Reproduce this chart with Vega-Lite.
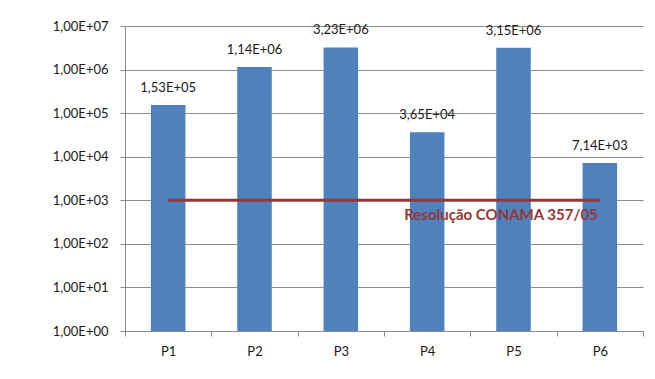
{
  "$schema": "https://vega.github.io/schema/vega-lite/v6.json",
  "width": 518,
  "height": 305,
  "autosize": {"type": "none"},
  "padding": {"left": 125, "top": 26, "right": 12, "bottom": 48},
  "background": "white",
  "config": {"view": {"stroke": null}, "font": "Lato"},
  "datasets": {
    "samples": [
      {"ponto": "P1", "valor": 153000},
      {"ponto": "P2", "valor": 1140000},
      {"ponto": "P3", "valor": 3230000},
      {"ponto": "P4", "valor": 36500},
      {"ponto": "P5", "valor": 3150000},
      {"ponto": "P6", "valor": 7140}
    ],
    "limite": [
      {"ponto": "P1", "valor": 1000},
      {"ponto": "P6", "valor": 1000}
    ],
    "nota": [
      {"ponto": "P6", "valor": 1000, "texto": "Resolução CONAMA 357/05"}
    ]
  },
  "layer": [
    {
      "data": {"name": "samples"},
      "mark": {"type": "bar", "color": "#4F81BD", "width": {"band": 0.4}},
      "encoding": {
        "x": {
          "field": "ponto",
          "type": "nominal",
          "scale": {"paddingInner": 0, "paddingOuter": 0},
          "axis": {
            "title": null,
            "labelAngle": 0,
            "tickBand": "extent",
            "tickSize": 5,
            "labelPadding": 9,
            "domainColor": "#8c8c8c",
            "tickColor": "#8c8c8c",
            "labelFontSize": 13,
            "labelColor": "#1a1a1a"
          }
        },
        "y": {
          "field": "valor",
          "type": "quantitative",
          "scale": {"type": "log", "domain": [1, 10000000]},
          "axis": {
            "title": null,
            "values": [1, 10, 100, 1000, 10000, 100000, 1000000, 10000000],
            "labelExpr": "'1,00E+0' + round(log(datum.value)/LN10)",
            "grid": true,
            "gridColor": "#8c8c8c",
            "domainColor": "#8c8c8c",
            "tickColor": "#8c8c8c",
            "tickSize": 5,
            "labelPadding": 12,
            "labelFontSize": 13,
            "labelColor": "#1a1a1a"
          }
        },
        "y2": {"datum": 1}
      }
    },
    {
      "data": {"name": "samples"},
      "transform": [
        {"calculate": "floor(log(datum.valor)/LN10)", "as": "expo"},
        {"calculate": "replace(format(datum.valor / pow(10, datum.expo), '.2f'), '.', ',') + 'E+0' + datum.expo", "as": "rotulo"}
      ],
      "mark": {"type": "text", "baseline": "alphabetic", "dy": -13, "fontSize": 13, "color": "#1a1a1a"},
      "encoding": {
        "x": {"field": "ponto", "type": "nominal"},
        "y": {"field": "valor", "type": "quantitative"},
        "text": {"field": "rotulo"}
      }
    },
    {
      "data": {"name": "limite"},
      "mark": {"type": "line", "color": "#953735", "strokeWidth": 3},
      "encoding": {
        "x": {"field": "ponto", "type": "nominal"},
        "y": {"field": "valor", "type": "quantitative"}
      }
    },
    {
      "data": {"name": "nota"},
      "mark": {"type": "text", "align": "right", "baseline": "middle", "dy": 15, "dx": -2, "fontSize": 15, "fontWeight": "bold", "color": "#953735"},
      "encoding": {
        "x": {"field": "ponto", "type": "nominal"},
        "y": {"field": "valor", "type": "quantitative"},
        "text": {"field": "texto"}
      }
    }
  ]
}
